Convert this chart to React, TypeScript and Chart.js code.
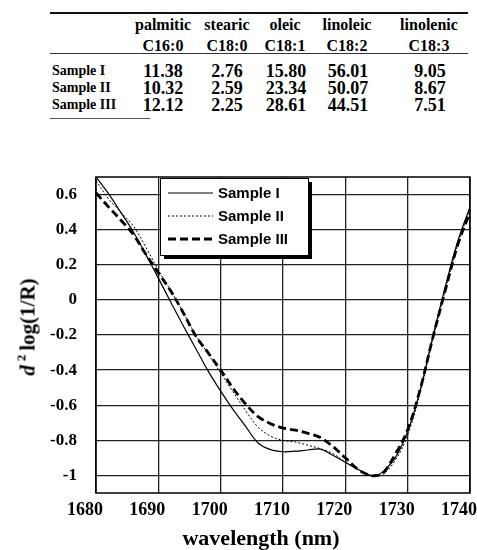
import React, { useEffect, useRef } from "react";
import { Chart, registerables } from "chart.js";
Chart.register(...registerables);

// ---- table data ----
const fattyAcids = ["palmitic", "stearic", "oleic", "linoleic", "linolenic"];
const fattyCodes = ["C16:0", "C18:0", "C18:1", "C18:2", "C18:3"];
const sampleNames = ["Sample I", "Sample II", "Sample III"];
const compSampleI = ["11.38", "2.76", "15.80", "56.01", "9.05"];
const compSampleII = ["10.32", "2.59", "23.34", "50.07", "8.67"];
const compSampleIII = ["12.12", "2.25", "28.61", "44.51", "7.51"];

// ---- chart data ----
const wavelengths = [
  1680, 1682, 1684, 1686, 1688, 1690, 1692, 1694, 1696, 1698, 1700, 1702, 1704,
  1706, 1708, 1710, 1712, 1714, 1716, 1718, 1720, 1722, 1724, 1725, 1726, 1728,
  1730, 1732, 1734, 1736, 1738, 1740,
];
const sampleI = [
  0.7, 0.605, 0.497, 0.387, 0.258, 0.124, -0.013, -0.147, -0.277, -0.406, -0.52,
  -0.625, -0.72, -0.815, -0.853, -0.865, -0.862, -0.855, -0.85, -0.885, -0.925,
  -0.965, -1.0, -1.0, -0.98, -0.9, -0.75, -0.515, -0.215, 0.07, 0.33, 0.53,
];
const sampleII = [
  0.68, 0.576, 0.498, 0.42, 0.3, 0.17, 0.053, -0.071, -0.2, -0.308, -0.416,
  -0.525, -0.63, -0.725, -0.776, -0.8, -0.81, -0.828, -0.848, -0.875, -0.925,
  -0.965, -0.998, -1.0, -0.995, -0.915, -0.77, -0.53, -0.23, 0.05, 0.31, 0.52,
];
const sampleIII = [
  0.61, 0.53, 0.454, 0.372, 0.26, 0.154, 0.05, -0.073, -0.205, -0.302, -0.4,
  -0.504, -0.593, -0.665, -0.705, -0.73, -0.742, -0.76, -0.784, -0.835, -0.9,
  -0.965, -1.0, -1.0, -0.99, -0.88, -0.74, -0.51, -0.22, 0.05, 0.31, 0.5,
];
const yTicks = [0.6, 0.4, 0.2, 0, -0.2, -0.4, -0.6, -0.8, -1];
const xMin = 1680;
const xMax = 1740;
const xStep = 10;
const yMin = -1.1;
const yMax = 0.7;

const serif = '"Liberation Serif", "Times New Roman", serif';
const sans = '"Liberation Sans", Arial, sans-serif';

const colCenters = [163, 227, 285, 347, 429];
const rowCenters = [71, 88, 105];

const framePlugin = {
  id: "frame",
  afterDatasetsDraw(chart: any) {
    const { ctx, chartArea } = chart;
    ctx.save();
    ctx.strokeStyle = "#000";
    ctx.lineWidth = 1.5;
    ctx.strokeRect(
      chartArea.left,
      chartArea.top,
      chartArea.right - chartArea.left,
      chartArea.bottom - chartArea.top
    );
    ctx.restore();
  },
};

const legendPlugin = {
  id: "boxLegend",
  afterDraw(chart: any) {
    const { ctx } = chart;
    const x = 160;
    const y = 28;
    const w = 148;
    const h = 77;
    ctx.save();
    ctx.fillStyle = "#000";
    ctx.fillRect(x + 4, y + 4, w, h);
    ctx.fillStyle = "#fff";
    ctx.fillRect(x, y, w, h);
    ctx.strokeStyle = "#000";
    ctx.lineWidth = 1;
    ctx.strokeRect(x + 0.5, y + 0.5, w, h);
    chart.data.datasets.forEach((ds: any, i: number) => {
      const ly = y + 15 + i * 23;
      ctx.beginPath();
      ctx.setLineDash(ds.borderDash || []);
      ctx.lineWidth = ds.borderWidth;
      ctx.strokeStyle = "#000";
      ctx.moveTo(x + 8, ly);
      ctx.lineTo(x + 53, ly);
      ctx.stroke();
      ctx.setLineDash([]);
      ctx.fillStyle = "#000";
      ctx.font = "bold 15px " + sans;
      ctx.textBaseline = "middle";
      ctx.textAlign = "left";
      ctx.fillText(ds.label, x + 58, ly + 1);
    });
    ctx.restore();
  },
};

function ChartCanvas() {
  const ref = useRef<HTMLCanvasElement | null>(null);
  useEffect(() => {
    if (!ref.current) return;
    const mk = (vals: number[]) => wavelengths.map((w, i) => ({ x: w, y: vals[i] }));
    const chart = new Chart(ref.current, {
      type: "line",
      data: {
        datasets: [
          {
            label: "Sample I",
            data: mk(sampleI),
            borderColor: "#000",
            borderWidth: 1.2,
            pointRadius: 0,
            tension: 0.35,
            fill: false,
          },
          {
            label: "Sample II",
            data: mk(sampleII),
            borderColor: "#000",
            borderWidth: 1,
            borderDash: [2, 2],
            pointRadius: 0,
            tension: 0.35,
            fill: false,
          },
          {
            label: "Sample III",
            data: mk(sampleIII),
            borderColor: "#000",
            borderWidth: 2.8,
            borderDash: [8, 4],
            pointRadius: 0,
            tension: 0.35,
            fill: false,
          },
        ],
      } as any,
      options: {
        animation: false,
        responsive: false,
        maintainAspectRatio: false,
        layout: { padding: { top: 27, right: 7, left: 0, bottom: 0 } },
        plugins: { legend: { display: false }, tooltip: { enabled: false } },
        scales: {
          x: {
            type: "linear",
            min: xMin,
            max: xMax,
            ticks: {
              stepSize: xStep,
              color: "#000",
              font: { family: serif, size: 18, weight: "bold" },
              padding: 7,
              labelOffset: -11,
              maxRotation: 0,
              callback: (v: any) => String(v),
            },
            grid: { color: "#222", lineWidth: 1.3, drawTicks: false },
            border: { display: false },
            afterFit: (s: any) => {
              s.height = 57;
              s.paddingLeft = 0;
              s.paddingRight = 0;
            },
          },
          y: {
            type: "linear",
            min: yMin,
            max: yMax,
            afterBuildTicks: (s: any) => {
              s.ticks = yTicks.map((v) => ({ value: v }));
            },
            ticks: {
              color: "#000",
              font: { family: serif, size: 17, weight: "bold" },
              padding: 19,
              callback: (v: any) => String(Number(v)),
            },
            grid: { color: "#222", lineWidth: 1.3, drawTicks: false },
            border: { display: false },
            afterFit: (s: any) => {
              s.width = 96;
              s.paddingTop = 0;
              s.paddingBottom = 0;
            },
          },
        },
      } as any,
      plugins: [framePlugin, legendPlugin],
    });
    return () => chart.destroy();
  }, []);
  return (
    <canvas
      ref={ref}
      width={477}
      height={400}
      style={{ position: "absolute", left: 0, top: 150, width: 477, height: 400 }}
    />
  );
}

const center = (x: number, y: number): React.CSSProperties => ({
  position: "absolute",
  left: x,
  top: y,
  transform: "translate(-50%, -50%)",
  whiteSpace: "nowrap",
  lineHeight: 1,
});

export default function App() {
  const rows = [compSampleI, compSampleII, compSampleIII];
  return (
    <div
      style={{
        position: "absolute",
        left: 0,
        top: 0,
        width: 477,
        height: 550,
        background: "#fff",
        fontFamily: serif,
        fontWeight: "bold",
        color: "#000",
        overflow: "hidden",
      }}
    >
      {/* table rules */}
      <div style={{ position: "absolute", left: 50, top: 12, width: 418, height: 2, background: "#111" }} />
      <div style={{ position: "absolute", left: 50, top: 53, width: 418, height: 1, background: "#333" }} />
      <div style={{ position: "absolute", left: 50, top: 118, width: 100, height: 1, background: "#555" }} />
      {fattyAcids.map((n, i) => (
        <div key={"h" + i} style={{ ...center(colCenters[i], 25), fontSize: 16 }}>
          {n}
        </div>
      ))}
      {fattyCodes.map((n, i) => (
        <div key={"c" + i} style={{ ...center(colCenters[i], 46), fontSize: 16 }}>
          {n}
        </div>
      ))}
      {sampleNames.map((n, r) => (
        <div
          key={"s" + r}
          style={{
            position: "absolute",
            left: 52,
            top: rowCenters[r],
            transform: "translateY(-50%)",
            fontSize: 14,
            whiteSpace: "nowrap",
            lineHeight: 1,
          }}
        >
          {n}
        </div>
      ))}
      {rows.map((vals, r) =>
        vals.map((v, i) => (
          <div key={"v" + r + "-" + i} style={{ ...center(colCenters[i] + (i >= 2 ? 1 : 0), rowCenters[r]), fontSize: 18 }}>
            {v}
          </div>
        ))
      )}
      <ChartCanvas />
      {/* axis titles */}
      <div
        style={{
          ...center(28, 327),
          transform: "translate(-50%, -50%) rotate(-90deg)",
          fontSize: 21,
        }}
      >
        <i>d</i>
        <span style={{ fontSize: 13, position: "relative", top: -9, marginLeft: 4 }}>2</span>
        <span style={{ marginLeft: 4 }}>log(1/R)</span>
      </div>
      <div style={{ ...center(261, 538), fontSize: 22 }}>wavelength (nm)</div>
    </div>
  );
}
